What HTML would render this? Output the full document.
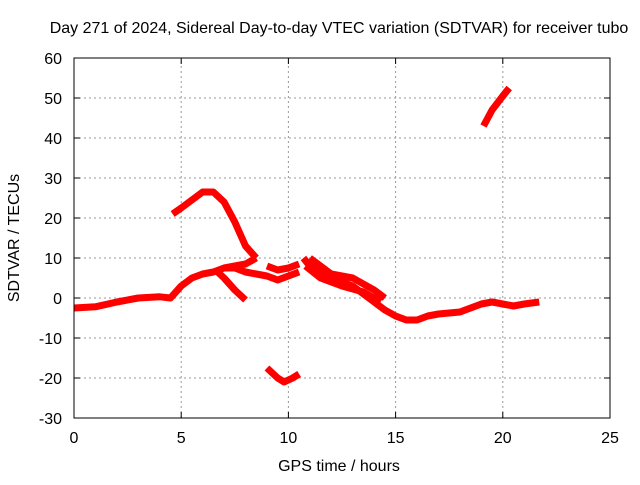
<!DOCTYPE html>
<html><head><meta charset="utf-8"><style>
body{margin:0;background:#fff}
svg{font-family:"Liberation Sans",sans-serif;font-size:16px}
</style></head><body>
<svg id="chart" width="640" height="480">
<text x="339" y="33" text-anchor="middle">Day 271 of 2024, Sidereal Day-to-day VTEC variation (SDTVAR) for receiver tubo</text>
<text x="339" y="471" text-anchor="middle">GPS time / hours</text>
<text transform="translate(19,238) rotate(-90)" text-anchor="middle">SDTVAR / TECUs</text>
<g id="grid"></g><g id="series"></g><g id="axes"></g>
</svg>
<script>
const xTicks=[0,5,10,15,20,25];
const yTicks=[-30,-20,-10,0,10,20,30,40,50,60];
const segHours=[
 [0,1,2,3,4,4.5,5,5.5,6,6.5,7,7.5,8,8.5],
 [7,7.5,8,8.5,9,9.5,10,10.5],
 [6.7,7,7.5,8],
 [9,9.5,10,10.5],
 [4.6,5,5.5,6,6.5,7,7.5,8,8.5],
 [9,9.5,9.8,10.2,10.5],
 [10.7,11,11.5,12,13,13.5,14,14.5,15,15.5,16,16.5,17,18,18.5,19,19.5,20,20.5,21,21.7],
 [11,12,13,14,14.5],
 [10.8,11.5,12.5,13.5,14.3],
 [19.1,19.5,20,20.3]
];
const segValues=[
 [-2.5,-2.2,-1,0,0.3,0,3,5,6,6.5,7.5,8,8.5,10],
 [7.5,7.5,6.5,6,5.5,4.5,5.5,6.5],
 [6.5,5,2,-0.5],
 [8,7,7.5,8.5],
 [21,22.5,24.5,26.5,26.5,24,19,13,10],
 [-17.5,-20,-21,-20,-19],
 [10,8,6,5,3,1,-1,-3,-4.5,-5.5,-5.5,-4.5,-4,-3.5,-2.5,-1.5,-1,-1.5,-2,-1.5,-1],
 [10,6,5,2,0],
 [8,5,3,1.5,-1],
 [43,47,50.5,52.5]
];
const X0=74,X1=610,Y0=418,Y1=58;
const sx=h=>X0+(h-0)/25*(X1-X0);
const sy=v=>Y0-(v+30)/90*(Y0-Y1);
const NS="http://www.w3.org/2000/svg";
const g=document.getElementById('grid'),s=document.getElementById('series'),a=document.getElementById('axes');
function mk(t,at,p){const e=document.createElementNS(NS,t);for(const k in at)e.setAttribute(k,at[k]);p.appendChild(e);return e;}
xTicks.forEach(t=>{
 const l=mk('line',{x1:sx(t),x2:sx(t),y1:Y0,y2:Y1,stroke:'#999','stroke-dasharray':'2,3'},g);
 
 
 mk('line',{x1:sx(t),x2:sx(t),y1:Y0,y2:Y0-6,stroke:'#000'},a);
 mk('line',{x1:sx(t),x2:sx(t),y1:Y1,y2:Y1+6,stroke:'#000'},a);
 const tx=mk('text',{x:sx(t),y:Y0+25,'text-anchor':'middle'},a);tx.textContent=t;
 
 
});
yTicks.forEach(t=>{
 const l=mk('line',{x1:X0,x2:X1,y1:sy(t),y2:sy(t),stroke:'#999','stroke-dasharray':'2,3'},g);
 
 
 mk('line',{x1:X0,x2:X0+6,y1:sy(t),y2:sy(t),stroke:'#000'},a);
 mk('line',{x1:X1,x2:X1-6,y1:sy(t),y2:sy(t),stroke:'#000'},a);
 const tx=mk('text',{x:X0-12,y:sy(t)+6,'text-anchor':'end'},a);tx.textContent=t;
 
 
});
const fr=mk('rect',{x:X0,y:Y1,width:X1-X0,height:Y0-Y1,fill:'none',stroke:'#000'},a);


segHours.forEach((hs,i)=>{
 const pts=hs.map((h,j)=>sx(h)+','+sy(segValues[i][j])).join(' ');
 const p=mk('polyline',{points:pts,fill:'none',stroke:'#f00','stroke-width':7,'stroke-linejoin':'round','stroke-linecap':'butt'},s);
 
 
});
</script>
</body></html>
